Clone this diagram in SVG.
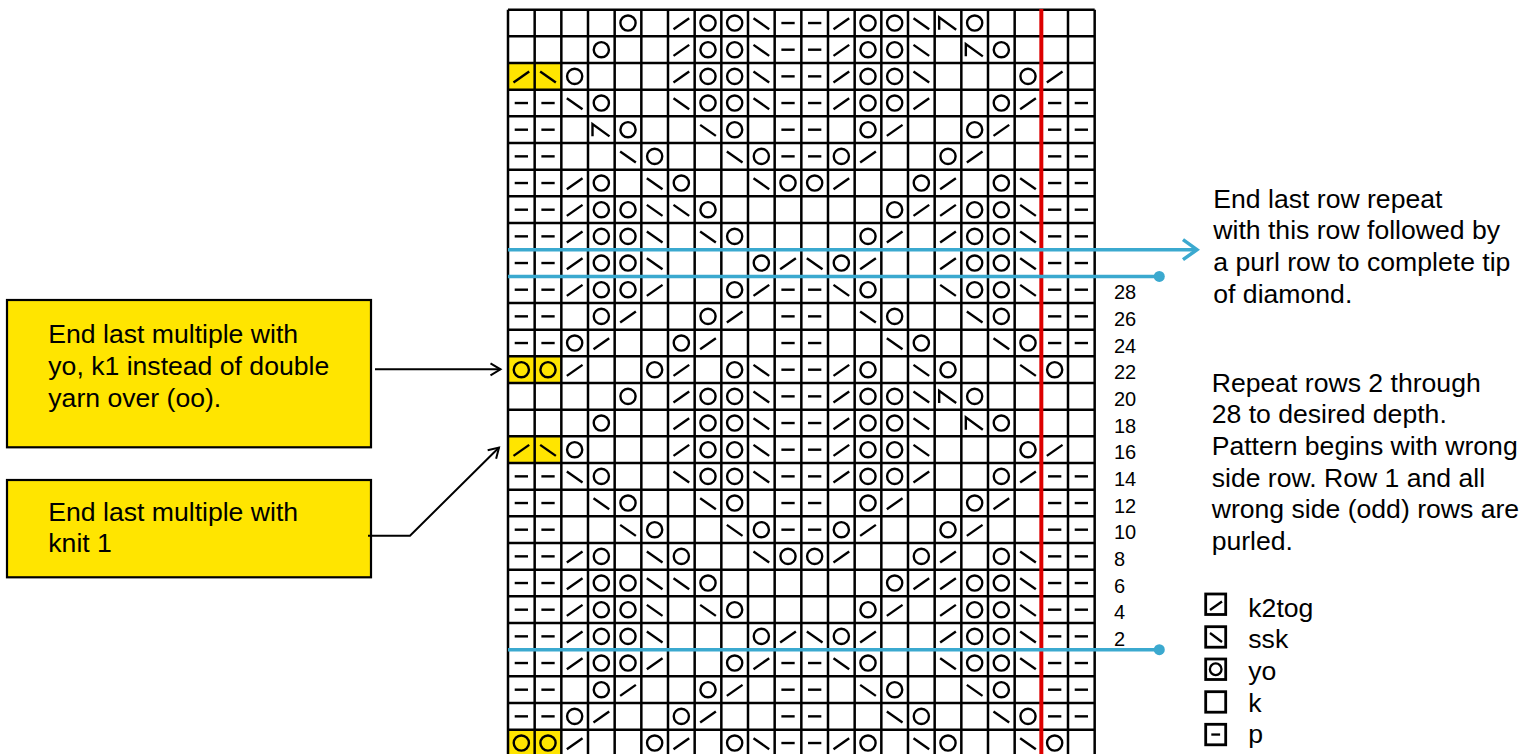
<svg xmlns="http://www.w3.org/2000/svg" xmlns:xlink="http://www.w3.org/1999/xlink" width="1521" height="754" viewBox="0 0 1521 754">
<style>
.txt{font-family:"Liberation Sans",Arial,Helvetica,sans-serif;font-size:26.6px;fill:#000}
.num{font-family:"Liberation Sans",Arial,Helvetica,sans-serif;font-size:20px;fill:#000}
.gridl{stroke:#000;stroke-width:2.5;fill:none}
.sym{stroke:#000;stroke-width:2.4;fill:none}
.lsym{stroke:#000;stroke-width:2.3;fill:none}
.yel{fill:#FFE500}
.box{fill:#FFE500;stroke:#000;stroke-width:2.2}
.lgbox{fill:#fff;stroke:#000;stroke-width:2.8}
.blk{stroke:#000;stroke-width:2;fill:none}
.blue{stroke:#3BA9CF;stroke-width:3.5;fill:none}
</style>
<defs>
<g id="P" class="sym"><line x1="6.7" y1="13.33" x2="20" y2="13.33"/></g>
<g id="R" class="sym"><line x1="5.5" y1="19.5" x2="21.2" y2="8.5"/></g>
<g id="L" class="sym"><line x1="5.5" y1="8.5" x2="21.2" y2="19.5"/></g>
<g id="O" class="sym"><circle cx="13.33" cy="13.33" r="7.6"/></g>
<g id="T" class="sym"><path d="M4.5 20V7.7L21.5 20"/></g>
<marker id="blackArrow" markerUnits="userSpaceOnUse" markerWidth="14" markerHeight="14" refX="11" refY="7" orient="auto" overflow="visible"><path d="M1 1L11 7L1 13" fill="none" stroke="#000" stroke-width="2"/></marker>
<marker id="blueArrow" markerUnits="userSpaceOnUse" markerWidth="20" markerHeight="24" refX="15" refY="10.5" orient="auto" overflow="visible"><path d="M1 0.5L15 10.5L1 20.5" fill="none" stroke="#3BA9CF" stroke-width="3.5"/></marker>
<marker id="blueDot" markerUnits="userSpaceOnUse" markerWidth="12" markerHeight="12" refX="6" refY="6" overflow="visible"><circle cx="6" cy="6" r="5.5" fill="#3BA9CF"/></marker>
</defs>

<g id="chart">
<rect x="508" y="9.7" width="586.67" height="746.67" fill="#fff"/>
<g id="rows-1-14">
<rect class="yel" x="508" y="63.03" width="53.33" height="26.67"/>
<rect class="yel" x="508" y="356.37" width="53.33" height="26.67"/>
<g transform="translate(508,9.7)"><use href="#O" x="106.67"/><use href="#R" x="160"/><use href="#O" x="186.67"/><use href="#O" x="213.33"/><use href="#L" x="240"/><use href="#P" x="266.67"/><use href="#P" x="293.33"/><use href="#R" x="320"/><use href="#O" x="346.67"/><use href="#O" x="373.33"/><use href="#L" x="400"/><use href="#T" x="426.67"/><use href="#O" x="453.33"/></g>
<g transform="translate(508,36.37)"><use href="#O" x="80"/><use href="#R" x="160"/><use href="#O" x="186.67"/><use href="#O" x="213.33"/><use href="#L" x="240"/><use href="#P" x="266.67"/><use href="#P" x="293.33"/><use href="#R" x="320"/><use href="#O" x="346.67"/><use href="#O" x="373.33"/><use href="#L" x="400"/><use href="#T" x="453.33"/><use href="#O" x="480"/></g>
<g transform="translate(508,63.03)"><use href="#R" x="0"/><use href="#L" x="26.67"/><use href="#O" x="53.33"/><use href="#R" x="160"/><use href="#O" x="186.67"/><use href="#O" x="213.33"/><use href="#L" x="240"/><use href="#P" x="266.67"/><use href="#P" x="293.33"/><use href="#R" x="320"/><use href="#O" x="346.67"/><use href="#O" x="373.33"/><use href="#L" x="400"/><use href="#O" x="506.67"/><use href="#R" x="533.33"/></g>
<g transform="translate(508,89.7)"><use href="#P" x="0"/><use href="#P" x="26.67"/><use href="#L" x="53.33"/><use href="#O" x="80"/><use href="#L" x="160"/><use href="#O" x="186.67"/><use href="#O" x="213.33"/><use href="#L" x="240"/><use href="#P" x="266.67"/><use href="#P" x="293.33"/><use href="#R" x="320"/><use href="#O" x="346.67"/><use href="#O" x="373.33"/><use href="#R" x="400"/><use href="#O" x="480"/><use href="#R" x="506.67"/><use href="#P" x="533.33"/><use href="#P" x="560"/></g>
<g transform="translate(508,116.37)"><use href="#P" x="0"/><use href="#P" x="26.67"/><use href="#O" x="106.67"/><use href="#L" x="186.67"/><use href="#O" x="213.33"/><use href="#P" x="266.67"/><use href="#P" x="293.33"/><use href="#O" x="346.67"/><use href="#R" x="373.33"/><use href="#O" x="453.33"/><use href="#R" x="480"/><use href="#P" x="533.33"/><use href="#P" x="560"/></g>
<g transform="translate(508,143.03)"><use href="#P" x="0"/><use href="#P" x="26.67"/><use href="#L" x="106.67"/><use href="#O" x="133.33"/><use href="#L" x="213.33"/><use href="#O" x="240"/><use href="#P" x="266.67"/><use href="#P" x="293.33"/><use href="#O" x="320"/><use href="#R" x="346.67"/><use href="#O" x="426.67"/><use href="#R" x="453.33"/><use href="#P" x="533.33"/><use href="#P" x="560"/></g>
<g transform="translate(508,169.7)"><use href="#P" x="0"/><use href="#P" x="26.67"/><use href="#R" x="53.33"/><use href="#O" x="80"/><use href="#L" x="133.33"/><use href="#O" x="160"/><use href="#L" x="240"/><use href="#O" x="266.67"/><use href="#O" x="293.33"/><use href="#R" x="320"/><use href="#O" x="400"/><use href="#R" x="426.67"/><use href="#O" x="480"/><use href="#L" x="506.67"/><use href="#P" x="533.33"/><use href="#P" x="560"/></g>
<g transform="translate(508,196.37)"><use href="#P" x="0"/><use href="#P" x="26.67"/><use href="#R" x="53.33"/><use href="#O" x="80"/><use href="#O" x="106.67"/><use href="#L" x="133.33"/><use href="#L" x="160"/><use href="#O" x="186.67"/><use href="#O" x="373.33"/><use href="#R" x="400"/><use href="#R" x="426.67"/><use href="#O" x="453.33"/><use href="#O" x="480"/><use href="#L" x="506.67"/><use href="#P" x="533.33"/><use href="#P" x="560"/></g>
<g transform="translate(508,223.03)"><use href="#P" x="0"/><use href="#P" x="26.67"/><use href="#R" x="53.33"/><use href="#O" x="80"/><use href="#O" x="106.67"/><use href="#L" x="133.33"/><use href="#L" x="186.67"/><use href="#O" x="213.33"/><use href="#O" x="346.67"/><use href="#R" x="373.33"/><use href="#R" x="426.67"/><use href="#O" x="453.33"/><use href="#O" x="480"/><use href="#L" x="506.67"/><use href="#P" x="533.33"/><use href="#P" x="560"/></g>
<g transform="translate(508,249.7)"><use href="#P" x="0"/><use href="#P" x="26.67"/><use href="#R" x="53.33"/><use href="#O" x="80"/><use href="#O" x="106.67"/><use href="#L" x="133.33"/><use href="#O" x="240"/><use href="#R" x="266.67"/><use href="#L" x="293.33"/><use href="#O" x="320"/><use href="#R" x="346.67"/><use href="#R" x="426.67"/><use href="#O" x="453.33"/><use href="#O" x="480"/><use href="#L" x="506.67"/><use href="#P" x="533.33"/><use href="#P" x="560"/></g>
<g transform="translate(508,276.37)"><use href="#P" x="0"/><use href="#P" x="26.67"/><use href="#R" x="53.33"/><use href="#O" x="80"/><use href="#O" x="106.67"/><use href="#R" x="133.33"/><use href="#O" x="213.33"/><use href="#R" x="240"/><use href="#P" x="266.67"/><use href="#P" x="293.33"/><use href="#L" x="320"/><use href="#O" x="346.67"/><use href="#L" x="426.67"/><use href="#O" x="453.33"/><use href="#O" x="480"/><use href="#L" x="506.67"/><use href="#P" x="533.33"/><use href="#P" x="560"/></g>
<g transform="translate(508,303.03)"><use href="#P" x="0"/><use href="#P" x="26.67"/><use href="#O" x="80"/><use href="#R" x="106.67"/><use href="#O" x="186.67"/><use href="#R" x="213.33"/><use href="#P" x="266.67"/><use href="#P" x="293.33"/><use href="#L" x="346.67"/><use href="#O" x="373.33"/><use href="#L" x="453.33"/><use href="#O" x="480"/><use href="#P" x="533.33"/><use href="#P" x="560"/></g>
<g transform="translate(508,329.7)"><use href="#P" x="0"/><use href="#P" x="26.67"/><use href="#O" x="53.33"/><use href="#R" x="80"/><use href="#O" x="160"/><use href="#R" x="186.67"/><use href="#P" x="266.67"/><use href="#P" x="293.33"/><use href="#L" x="373.33"/><use href="#O" x="400"/><use href="#L" x="480"/><use href="#O" x="506.67"/><use href="#P" x="533.33"/><use href="#P" x="560"/></g>
<g transform="translate(508,356.37)"><use href="#O" x="0"/><use href="#O" x="26.67"/><use href="#R" x="53.33"/><use href="#O" x="133.33"/><use href="#R" x="160"/><use href="#O" x="213.33"/><use href="#L" x="240"/><use href="#P" x="266.67"/><use href="#P" x="293.33"/><use href="#R" x="320"/><use href="#O" x="346.67"/><use href="#L" x="400"/><use href="#O" x="426.67"/><use href="#L" x="506.67"/><use href="#O" x="533.33"/></g>
</g>
<use id="rows-15-28" href="#rows-1-14" y="373.33"/>
<use href="#T" x="588" y="116.37"/>
<use href="#L" x="588" y="489.7"/>
<path class="gridl" d="M508 9.7H1094.67M508 36.37H1094.67M508 63.03H1094.67M508 89.7H1094.67M508 116.37H1094.67M508 143.03H1094.67M508 169.7H1094.67M508 196.37H1094.67M508 223.03H1094.67M508 249.7H1094.67M508 276.37H1094.67M508 303.03H1094.67M508 329.7H1094.67M508 356.37H1094.67M508 383.03H1094.67M508 409.7H1094.67M508 436.37H1094.67M508 463.03H1094.67M508 489.7H1094.67M508 516.37H1094.67M508 543.03H1094.67M508 569.7H1094.67M508 596.37H1094.67M508 623.03H1094.67M508 649.7H1094.67M508 676.37H1094.67M508 703.03H1094.67M508 729.7H1094.67M508 756.37H1094.67M508 9.7V756.37M534.67 9.7V756.37M561.33 9.7V756.37M588 9.7V756.37M614.67 9.7V756.37M641.33 9.7V756.37M668 9.7V756.37M694.67 9.7V756.37M721.33 9.7V756.37M748 9.7V756.37M774.67 9.7V756.37M801.33 9.7V756.37M828 9.7V756.37M854.67 9.7V756.37M881.33 9.7V756.37M908 9.7V756.37M934.67 9.7V756.37M961.33 9.7V756.37M988 9.7V756.37M1014.67 9.7V756.37M1041.33 9.7V756.37M1068 9.7V756.37M1094.67 9.7V756.37"/>
<line id="repeat-line" x1="1041.33" y1="9" x2="1041.33" y2="754" stroke="#DD0000" stroke-width="4"/>
</g>

<g id="row-numbers" class="num">
<text x="1114" y="299.3">28</text>
<text x="1114" y="326">26</text>
<text x="1114" y="352.7">24</text>
<text x="1114" y="379.3">22</text>
<text x="1114" y="406">20</text>
<text x="1114" y="432.7">18</text>
<text x="1114" y="459.3">16</text>
<text x="1114" y="486">14</text>
<text x="1114" y="512.7">12</text>
<text x="1114" y="539.3">10</text>
<text x="1114" y="566">8</text>
<text x="1114" y="592.7">6</text>
<text x="1114" y="619.3">4</text>
<text x="1114" y="646">2</text>
</g>

<g id="note-double-yo">
<rect class="box" x="7" y="300" width="364" height="147.3"/>
<text class="txt" x="48.3" y="343.3">End last multiple with</text>
<text class="txt" x="48.3" y="375">yo, k1 instead of double</text>
<text class="txt" x="48.3" y="406.7">yarn over (oo).</text>
</g>
<g id="note-knit1">
<rect class="box" x="7" y="480" width="364" height="97.3"/>
<text class="txt" x="48.3" y="520.7">End last multiple with</text>
<text class="txt" x="48.3" y="552.3">knit 1</text>
</g>

<g id="note-last-row" class="txt">
<text x="1213.3" y="207.7">End last row repeat</text>
<text x="1213.3" y="239.3">with this row followed by</text>
<text x="1213.3" y="271">a purl row to complete tip</text>
<text x="1213.3" y="302.7">of diamond.</text>
</g>
<g id="note-repeat" class="txt">
<text x="1211.7" y="391.7">Repeat rows 2 through</text>
<text x="1211.7" y="423.3">28 to desired depth.</text>
<text x="1211.7" y="455">Pattern begins with wrong</text>
<text x="1211.7" y="486.7">side row. Row 1 and all</text>
<text x="1211.7" y="518.3">wrong side (odd) rows are</text>
<text x="1211.7" y="550">purled.</text>
</g>

<g id="legend">
<g id="legend-k2tog"><rect class="lgbox" x="1205.7" y="594" width="20" height="20.5"/><line class="lsym" x1="1210" y1="610" x2="1222" y2="601.5"/><text class="txt" x="1248.3" y="616.7">k2tog</text></g>
<g id="legend-ssk"><rect class="lgbox" x="1205.7" y="626.7" width="20" height="20.5"/><line class="lsym" x1="1210" y1="633" x2="1222" y2="642"/><text class="txt" x="1248.3" y="648.3">ssk</text></g>
<g id="legend-yo"><rect class="lgbox" x="1205.7" y="659" width="20" height="20.5"/><circle class="lsym" cx="1215.7" cy="669.25" r="5.8"/><text class="txt" x="1248.3" y="680">yo</text></g>
<g id="legend-k"><rect class="lgbox" x="1205.7" y="691.7" width="20" height="20.5"/><text class="txt" x="1248.3" y="711.7">k</text></g>
<g id="legend-p"><rect class="lgbox" x="1205.7" y="724.3" width="20" height="20.5"/><line class="lsym" x1="1211.3" y1="734.55" x2="1220.1" y2="734.55"/><text class="txt" x="1248.3" y="743.3">p</text></g>
</g>

<g id="connectors">
<line class="blk" x1="375" y1="369.3" x2="500.5" y2="369.3" marker-end="url(#blackArrow)"/>
<polyline class="blk" points="368,535.7 410,535.7 499,447.5" marker-end="url(#blackArrow)"/>
<line class="blue" x1="508" y1="249.7" x2="1197" y2="249.7" marker-end="url(#blueArrow)"/>
<line class="blue" x1="508" y1="276.4" x2="1159.3" y2="276.4" marker-end="url(#blueDot)"/>
<line class="blue" x1="508" y1="649.7" x2="1159.3" y2="649.7" marker-end="url(#blueDot)"/>
</g>
</svg>
